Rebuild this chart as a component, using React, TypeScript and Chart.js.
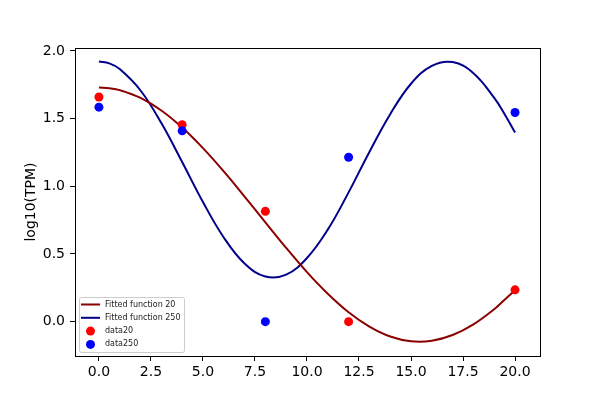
import { useEffect, useRef } from 'react';
import { Chart, ChartConfiguration, Plugin, registerables } from 'chart.js';

Chart.register(...registerables);

// fitted curves
const curveX = [0, 0.5, 1, 2, 3, 4, 5, 6, 7, 8, 9, 10, 11, 12, 13, 14, 15, 16, 17, 18, 19, 19.5, 20];
const fit20 = [1.73, 1.725, 1.711, 1.653, 1.56, 1.434, 1.282, 1.11, 0.924, 0.734, 0.545, 0.366, 0.206, 0.069, -0.037, -0.11, -0.145, -0.141, -0.099, -0.02, 0.092, 0.162, 0.232];
const fit250 = [1.922, 1.908, 1.866, 1.708, 1.467, 1.18, 0.884, 0.622, 0.429, 0.333, 0.347, 0.47, 0.68, 0.955, 1.254, 1.533, 1.758, 1.89, 1.918, 1.836, 1.654, 1.533, 1.398];

// measured points
const sampleX = [0, 4, 8, 12, 20];
const data20 = [1.66, 1.455, 0.815, 0.0, 0.235];
const data250 = [1.585, 1.41, 0.0, 1.215, 1.545];

const xTicks = [0, 2.5, 5, 7.5, 10, 12.5, 15, 17.5, 20];
const yTicks = [0, 0.5, 1, 1.5, 2];

const legendItems = [
  { label: 'Fitted function 20', color: '#8b0000', kind: 'line' },
  { label: 'Fitted function 250', color: '#00008b', kind: 'line' },
  { label: 'data20', color: '#ff0000', kind: 'point' },
  { label: 'data250', color: '#0000ff', kind: 'point' },
];

const FONT = "'DejaVu Sans', sans-serif";

const pairs = (xs: number[], ys: number[]) => xs.map((x, i) => ({ x, y: ys[i] }));

// box around the axes + legend in lower-left corner
const framePlugin: Plugin = {
  id: 'frame',
  afterDraw(chart) {
    const { ctx, chartArea: a } = chart;
    ctx.save();
    ctx.strokeStyle = '#000';
    ctx.lineWidth = 1;
    ctx.strokeRect(a.left + 0.5, a.top + 0.5, a.right - a.left, a.bottom - a.top);

    const bx = a.left + 4, by = a.bottom - 59, bw = 105, bh = 55;
    ctx.fillStyle = 'rgba(255,255,255,0.8)';
    ctx.strokeStyle = '#cccccc';
    ctx.beginPath();
    ctx.roundRect(bx + 0.5, by + 0.5, bw, bh, 2);
    ctx.fill();
    ctx.stroke();

    ctx.font = `8px ${FONT}`;
    ctx.textBaseline = 'middle';
    legendItems.forEach((it, i) => {
      const y = by + 7.5 + i * 13.3;
      if (it.kind === 'line') {
        ctx.strokeStyle = it.color;
        ctx.lineWidth = 2;
        ctx.beginPath();
        ctx.moveTo(bx + 2, y);
        ctx.lineTo(bx + 21, y);
        ctx.stroke();
      } else {
        ctx.fillStyle = it.color;
        ctx.beginPath();
        ctx.arc(bx + 11.5, y, 4.5, 0, Math.PI * 2);
        ctx.fill();
      }
      ctx.fillStyle = '#222';
      ctx.fillText(it.label, bx + 26, y);
    });
    ctx.restore();
  },
};

export default function App() {
  const canvasRef = useRef<HTMLCanvasElement>(null);
  const chartRef = useRef<Chart | null>(null);

  useEffect(() => {
    if (!canvasRef.current) return;
    if (chartRef.current) chartRef.current.destroy();

    const config: ChartConfiguration = {
      type: 'scatter',
      data: {
        datasets: [
          {
            label: 'Fitted function 20',
            data: pairs(curveX, fit20),
            showLine: true,
            borderColor: '#8b0000',
            borderWidth: 2,
            pointRadius: 0,
            tension: 0.4,
            order: 2,
          },
          {
            label: 'Fitted function 250',
            data: pairs(curveX, fit250),
            showLine: true,
            borderColor: '#00008b',
            borderWidth: 2,
            pointRadius: 0,
            tension: 0.4,
            order: 2,
          },
          {
            label: 'data20',
            data: pairs(sampleX, data20),
            backgroundColor: '#ff0000',
            borderWidth: 0,
            pointRadius: 4.5,
            order: 1,
          },
          {
            label: 'data250',
            data: pairs(sampleX, data250),
            backgroundColor: '#0000ff',
            borderWidth: 0,
            pointRadius: 4.5,
            order: 0,
          },
        ],
      },
      options: {
        responsive: false,
        animation: false,
        layout: { padding: { left: 0, top: 48, right: 60, bottom: 0 } },
        plugins: {
          legend: { display: false },
          tooltip: { enabled: false },
        },
        scales: {
          x: {
            type: 'linear',
            min: -1.15,
            max: 21.2,
            afterBuildTicks: (s: any) => { s.ticks = xTicks.map(v => ({ value: v })); },
            afterFit: (s: any) => { s.height = 44; },
            grid: { drawOnChartArea: false, tickLength: 5, tickColor: '#000' },
            border: { color: '#000' },
            ticks: {
              color: '#000',
              padding: 3,
              font: { family: FONT, size: 14 },
              callback: (v: any) => Number(v).toFixed(1),
            },
          },
          y: {
            type: 'linear',
            min: -0.254,
            max: 2.022,
            afterBuildTicks: (s: any) => { s.ticks = yTicks.map(v => ({ value: v })); },
            afterFit: (s: any) => { s.width = 75; },
            grid: { drawOnChartArea: false, tickLength: 5, tickColor: '#000' },
            border: { color: '#000' },
            title: {
              display: true,
              text: 'log10(TPM)',
              color: '#000',
              font: { family: FONT, size: 14 },
              padding: { top: 23, bottom: 0 },
            },
            ticks: {
              color: '#000',
              padding: 5,
              font: { family: FONT, size: 14 },
              callback: (v: any) => Number(v).toFixed(1),
            },
          },
        },
      },
      plugins: [framePlugin],
    };

    chartRef.current = new Chart(canvasRef.current, config);

    return () => {
      if (chartRef.current) {
        chartRef.current.destroy();
        chartRef.current = null;
      }
    };
  }, []);

  return (
    <div style={{ position: 'absolute', left: 0, top: 0, width: 600, height: 400, background: '#fff' }}>
      <canvas ref={canvasRef} width={600} height={400}></canvas>
    </div>
  );
}
